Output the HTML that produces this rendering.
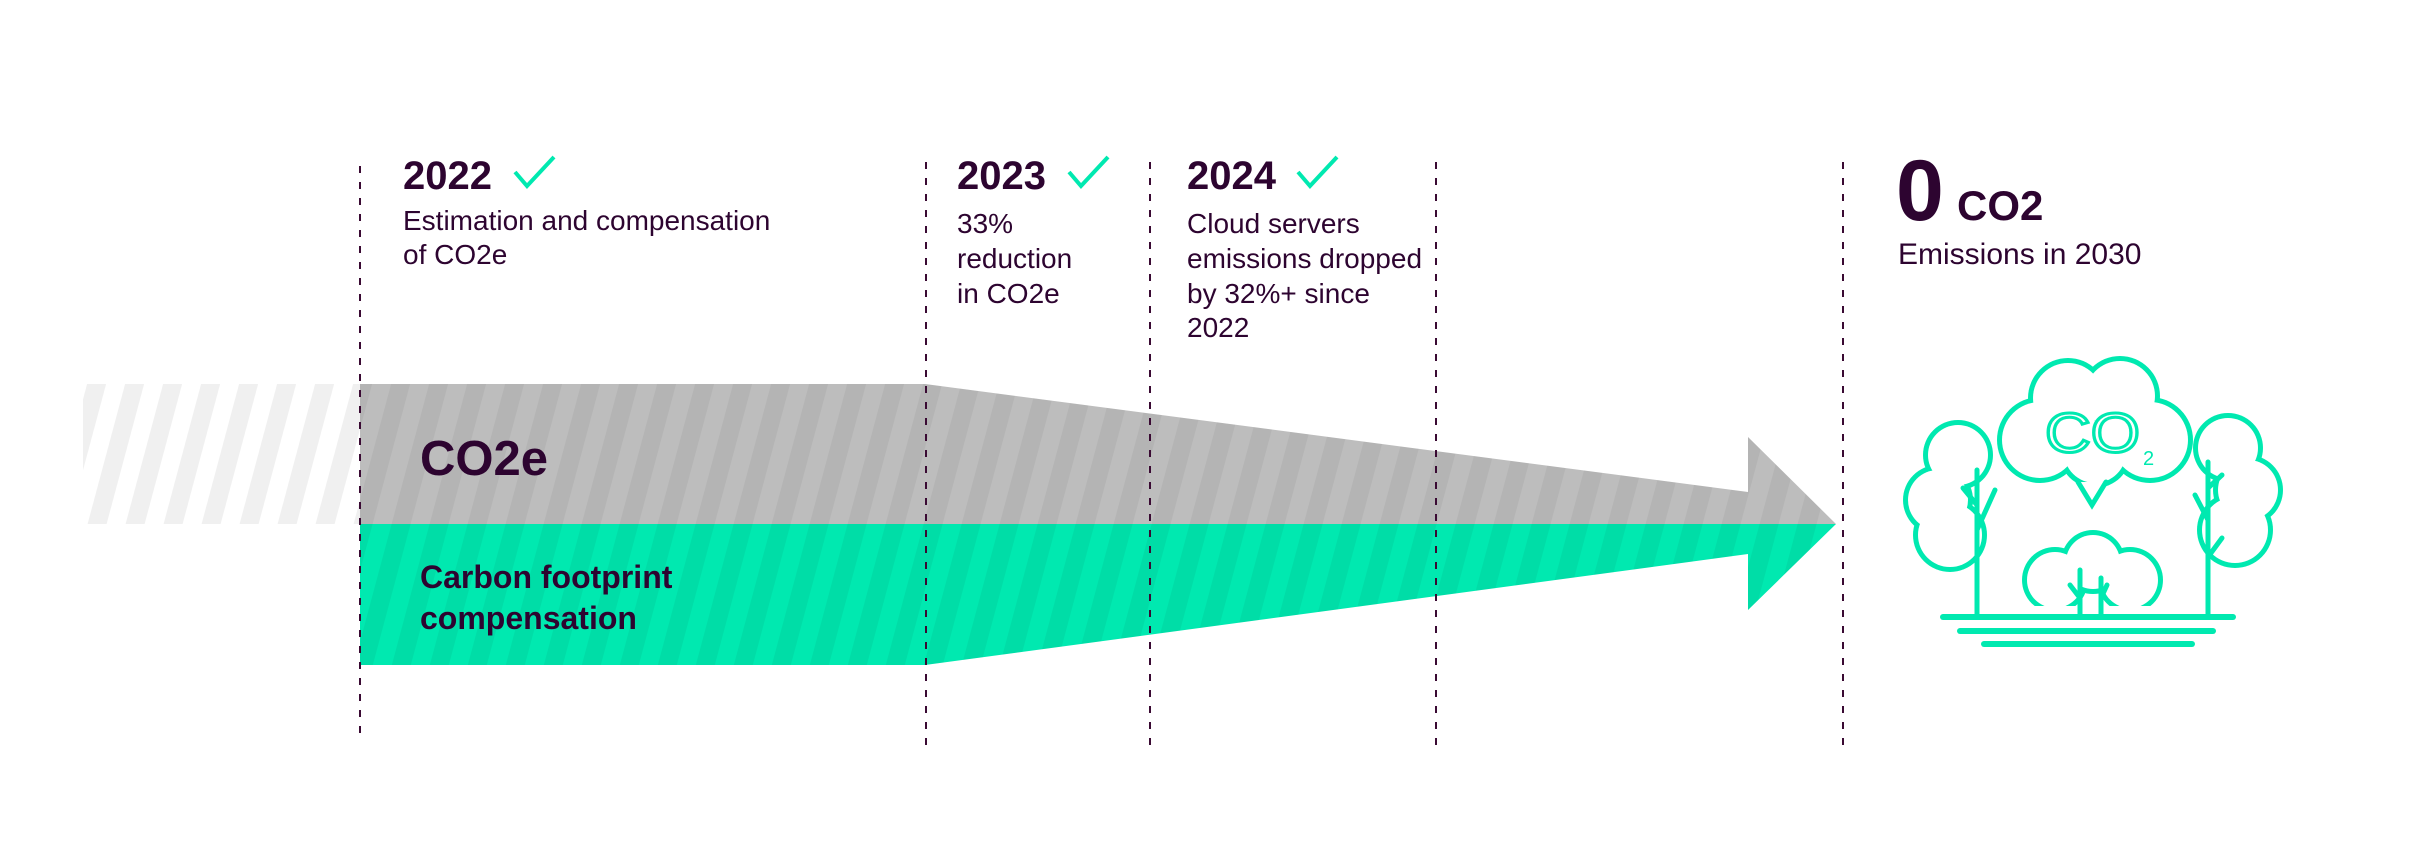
<!DOCTYPE html>
<html><head><meta charset="utf-8"><style>
html,body{margin:0;padding:0;background:#fff;}
svg{display:block;}
text{font-family:"Liberation Sans",sans-serif;fill:#2d0430;}
</style></head><body>
<svg width="2409" height="856" viewBox="0 0 2409 856" xmlns="http://www.w3.org/2000/svg">
<defs>
<pattern id="st" patternUnits="userSpaceOnUse" width="38" height="200" patternTransform="skewX(-15)">
<rect x="0" y="0" width="19" height="200" fill="#000"/>
</pattern>
<pattern id="stl" patternUnits="userSpaceOnUse" width="38" height="200" patternTransform="skewX(-15)">
<rect x="0" y="0" width="19" height="200" fill="#f0f0f0"/>
</pattern>
</defs>
<rect x="83" y="384" width="277" height="140" fill="url(#stl)"/>
<polygon points="360,384 925,384 1748,492 1748,437 1836,524 360,524" fill="#bdbdbd"/>
<polygon points="360,384 925,384 1748,492 1748,437 1836,524 360,524" fill="url(#st)" opacity="0.045"/>
<polygon points="360,524 1836,524 1748,610 1748,554 925,665 360,665" fill="#00e9b0"/>
<polygon points="360,524 1836,524 1748,610 1748,554 925,665 360,665" fill="url(#st)" opacity="0.05"/>
<g stroke="#3a0a33" stroke-width="2" stroke-dasharray="7,9">
<line x1="360" y1="166" x2="360" y2="742"/>
<line x1="926" y1="162" x2="926" y2="752"/>
<line x1="1150" y1="162" x2="1150" y2="752"/>
<line x1="1436" y1="162" x2="1436" y2="752"/>
<line x1="1843" y1="162" x2="1843" y2="752"/>
</g>
<text x="403" y="189" font-size="40" font-weight="bold">2022</text>
<polyline points="515,172 527,186 554,157" fill="none" stroke="#00e9b0" stroke-width="4"/>
<text x="403" y="230" font-size="28">Estimation and compensation</text>
<text x="403" y="264" font-size="28">of CO2e</text>

<text x="957" y="189" font-size="40" font-weight="bold">2023</text>
<polyline points="1069,172 1081,186 1108,157" fill="none" stroke="#00e9b0" stroke-width="4"/>
<text x="957" y="233" font-size="28">33%</text>
<text x="957" y="268" font-size="28">reduction</text>
<text x="957" y="303" font-size="28">in CO2e</text>

<text x="1187" y="189" font-size="40" font-weight="bold">2024</text>
<polyline points="1298,172 1310,186 1337,157" fill="none" stroke="#00e9b0" stroke-width="4"/>
<text x="1187" y="233" font-size="28">Cloud servers</text>
<text x="1187" y="268" font-size="28">emissions dropped</text>
<text x="1187" y="303" font-size="28">by 32%+ since</text>
<text x="1187" y="337" font-size="28">2022</text>

<text x="1896" y="220" font-size="86" font-weight="bold">0</text>
<text x="1957" y="220" font-size="42" font-weight="bold">CO2</text>
<text x="1898" y="264" font-size="30">Emissions in 2030</text>

<text x="420" y="475" font-size="49" font-weight="bold">CO2e</text>
<text x="420" y="588" font-size="32" font-weight="bold">Carbon footprint</text>
<text x="420" y="629" font-size="32" font-weight="bold">compensation</text>

<g stroke="#00e9b0" stroke-width="5" fill="none" stroke-linecap="round">
<g stroke="none" fill="#00e9b0">
<circle cx="1958" cy="455" r="35"/><circle cx="1938" cy="500" r="35"/><circle cx="1950" cy="535" r="37"/>
<circle cx="2228" cy="448" r="35"/><circle cx="2248" cy="490" r="35"/><circle cx="2235" cy="530" r="38"/>
</g>
<g stroke="none" fill="#fff">
<circle cx="1958" cy="455" r="30"/><circle cx="1938" cy="500" r="30"/><circle cx="1950" cy="535" r="32"/>
<circle cx="2228" cy="448" r="30"/><circle cx="2248" cy="490" r="30"/><circle cx="2235" cy="530" r="33"/>
</g>
<g stroke="none" fill="#00e9b0">
<circle cx="2040" cy="440" r="43"/><circle cx="2068" cy="398" r="40"/><circle cx="2120" cy="396" r="40"/><circle cx="2150" cy="440" r="43"/><circle cx="2095" cy="452" r="36"/>
</g>
<g stroke="none" fill="#fff">
<circle cx="2040" cy="440" r="38"/><circle cx="2068" cy="398" r="35"/><circle cx="2120" cy="396" r="35"/><circle cx="2150" cy="440" r="38"/><circle cx="2095" cy="452" r="31"/>
</g>
<polyline points="2078,482 2092,505 2106,482" fill="#fff"/>
<g stroke="none" fill="#00e9b0">
<circle cx="2055" cy="580" r="33"/><circle cx="2093" cy="562" r="32"/><circle cx="2130" cy="580" r="33"/>
</g>
<g stroke="none" fill="#fff">
<circle cx="2055" cy="580" r="28"/><circle cx="2093" cy="562" r="27"/><circle cx="2130" cy="580" r="28"/>
</g>
<rect x="2018" y="606" width="150" height="10" fill="#fff" stroke="none"/>
<line x1="1977" y1="470" x2="1977" y2="617"/>
<line x1="1977" y1="530" x2="1995" y2="490"/>
<line x1="1977" y1="505" x2="1963" y2="488"/>
<line x1="2208" y1="462" x2="2208" y2="617"/>
<line x1="2208" y1="488" x2="2222" y2="475"/>
<line x1="2208" y1="520" x2="2195" y2="495"/>
<line x1="2208" y1="557" x2="2222" y2="538"/>
<line x1="2080" y1="570" x2="2080" y2="617"/>
<line x1="2101" y1="578" x2="2101" y2="617"/>
<line x1="2080" y1="598" x2="2070" y2="585"/>
<line x1="2101" y1="598" x2="2107" y2="585"/>
<line x1="1943" y1="617" x2="2233" y2="617" stroke-width="6"/>
<line x1="1960" y1="631" x2="2213" y2="631" stroke-width="6"/>
<line x1="1984" y1="644" x2="2192" y2="644" stroke-width="6"/>
</g>
<text x="2045" y="452" font-size="56" stroke="#00e9b0" stroke-width="3" textLength="95" lengthAdjust="spacingAndGlyphs" style="fill:none">CO</text>
<text x="2143" y="465" font-size="20" style="fill:#00e9b0">2</text>
</svg>
</body></html>
